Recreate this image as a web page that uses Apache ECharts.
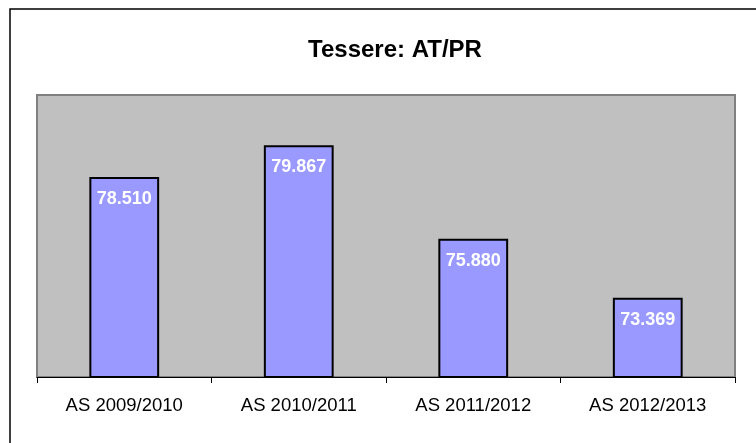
<!DOCTYPE html>
<html>
<head>
<meta charset="utf-8">
<script src="https://cdn.jsdelivr.net/npm/echarts@6/dist/echarts.min.js"></script>
<style>
    html, body { margin: 0; padding: 0; background: #fff; }
    #main { width: 756px; height: 443px; }
</style>
</head>
<body>
<div id="main"></div>
<script>
// dati del grafico
var titolo = 'Tessere: AT/PR';
var anni = ['AS 2009/2010', 'AS 2010/2011', 'AS 2011/2012', 'AS 2012/2013'];
var tessere = [78510, 79867, 75880, 73369];
var yMin = 70000, yMax = 82000;

// separatore delle migliaia all'italiana
function formatta(v) {
    return String(v).replace(/\B(?=(\d{3})+(?!\d))/g, '.');
}

var myChart = echarts.init(document.getElementById('main'));
myChart.setOption({
    animation: false,
    backgroundColor: '#fff',
    title: {
        text: titolo,
        left: 390,
        top: 33,
        textAlign: 'center',
        textStyle: { fontFamily: 'Liberation Sans, Arial', fontWeight: 'bold', fontSize: 24, color: '#000' }
    },
    graphic: [{
        // cornice esterna (solo lati sinistro e superiore visibili)
        type: 'rect',
        shape: { x: 10, y: 9, width: 800, height: 500 },
        style: { fill: 'none', stroke: '#000', lineWidth: 1.5 },
        silent: true
    }],
    grid: {
        left: 37, top: 95, width: 698, height: 282,
        show: true,
        backgroundColor: '#C0C0C0',
        borderColor: '#808080',
        borderWidth: 2
    },
    xAxis: {
        type: 'category',
        data: anni,
        axisLine: { lineStyle: { color: '#000', width: 1 } },
        axisTick: { show: true, length: 6, lineStyle: { color: '#000' } },
        axisLabel: {
            margin: 19,
            color: '#000',
            fontFamily: 'Liberation Sans, Arial',
            fontSize: 18.5
        }
    },
    yAxis: {
        type: 'value',
        min: yMin,
        max: yMax,
        show: false,
        splitLine: { show: false }
    },
    series: [{
        type: 'bar',
        data: tessere,
        barWidth: '40%',
        itemStyle: { color: '#9999FF', borderColor: '#000', borderWidth: 2 },
        label: {
            show: true,
            position: 'insideTop',
            distance: 13,
            color: '#fff',
            fontFamily: 'Liberation Sans, Arial',
            fontWeight: 'bold',
            fontSize: 18,
            formatter: function (p) { return formatta(p.value); }
        }
    }]
});
</script>
</body>
</html>
